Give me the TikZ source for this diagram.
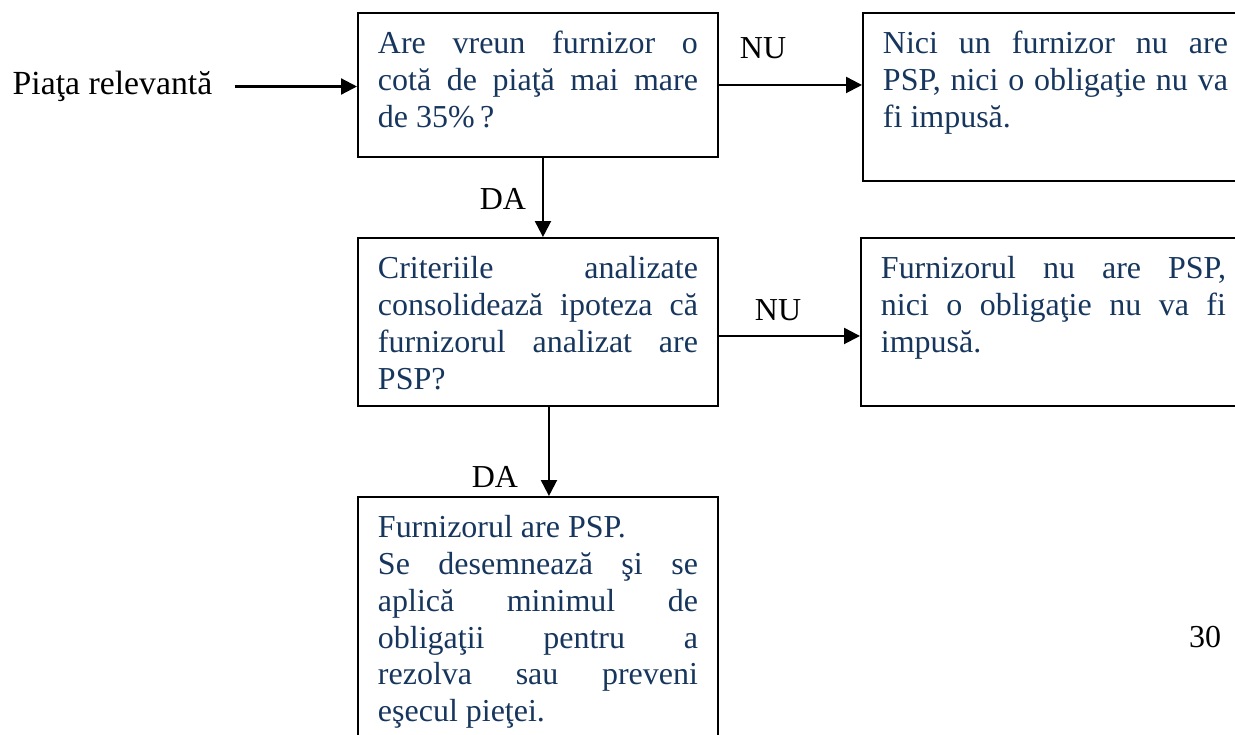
\documentclass[tikz,border=0pt]{standalone}
\usepackage{fontspec}
\setmainfont{Liberation Serif}
\usepackage{xcolor}
\usepackage{tikz}
\usetikzlibrary{arrows.meta,calc}
\definecolor{textblue}{RGB}{23,54,93}
\newcommand{\boxtext}[3]{\parbox[c][#1][t]{#2}{\rule{0pt}{0.82cm}#3}}
\tikzset{
	>={Triangle[length=0.32cm,width=0.32cm]},
	every node/.append style={font=\fontsize{18.2}{20.9}\selectfont},
	basic/.style={
			draw,
			rectangle,
			line width=1.1pt,
			anchor=north west,
			inner xsep=0.4cm,
			inner ysep=0pt,
			text=textblue
		},
	answer/.style={anchor=base},
	flow/.style={->, line width=1.25pt}
}
\begin{document}
\begin{tikzpicture}
    \useasboundingbox (0,0) rectangle (24.7,-14.68);
    \clip (0,0) rectangle (24.7,-14.68);

    \node[inner xsep=0.44cm, font=\fontsize{19.2}{22}\selectfont] at (2.25,-1.73) (src) {Piaţa relevantă};

    \node[basic] at (7.14,-0.24) (q1) {\boxtext{2.88cm}{6.4cm}{Are vreun furnizor o\linebreak
      cotă de piaţă mai mare\linebreak
      de 35\%\,?}};

    \node[basic] at (17.24,-0.24) (r1) {\boxtext{3.36cm}{6.9cm}{Nici un furnizor nu are\linebreak
      PSP, nici o obligaţie nu va\linebreak
      fi impusă.}};

    \node[basic] at (7.14,-4.74) (q2) {\boxtext{3.36cm}{6.4cm}{Criteriile analizate\linebreak
      consolidează ipoteza că\linebreak
      furnizorul analizat  are\linebreak
      PSP?}};

    \node[basic] at (17.2,-4.74) (r2) {\boxtext{3.36cm}{6.9cm}{Furnizorul nu are PSP,\linebreak
      nici o obligaţie nu va fi\linebreak
      impusă.}};

    \node[basic] at (7.14,-9.92) (res) {\boxtext{5.4cm}{6.4cm}{Furnizorul are PSP.\\
      Se desemnează şi se\linebreak
      aplică minimul de\linebreak
      obligaţii pentru a\linebreak
      rezolva sau preveni\linebreak
      eşecul pieţei.}};

    \node[answer] at (15.26,-1.16) (nu1) {NU};
    \node[answer] at (15.56,-6.4) (nu2) {NU};
    \node[answer] at (10.06,-4.18) (da1) {DA};
    \node[answer] at (9.9,-9.74) (da2) {DA};
    \node[answer] at (24.1,-12.94) (page) {30};

    \draw[flow] (src.east) -- (src.east -| q1.west);
    \draw[flow] (q1.east) -- (q1.east -| r1.west);
    \draw[flow] ([yshift=-0.28cm]q2.east) -- ([yshift=-0.28cm]q2.east -| r2.west);
    \draw[flow] ([xshift=0.1cm]q1.south) -- ([xshift=0.1cm]q1.south |- q2.north);
    \draw[flow] ([xshift=0.22cm]q2.south) -- ([xshift=0.22cm]q2.south |- res.north);
  \end{tikzpicture}
\end{document}
